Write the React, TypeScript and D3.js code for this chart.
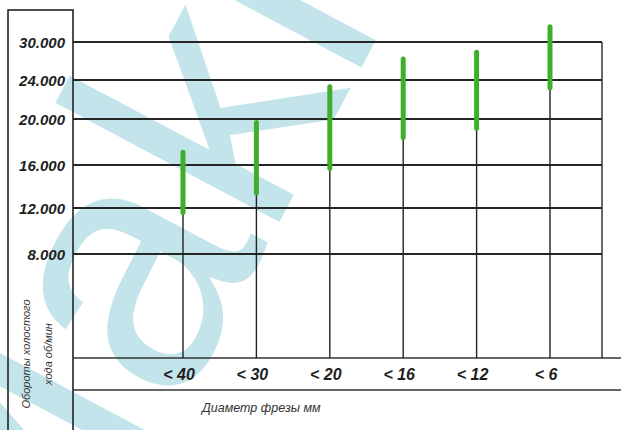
import * as d3 from "d3";
import { useEffect, useRef } from "react";

// tick values on the rpm axis (the axis is not linear, ticks are evenly drawn)
const rpmTicks = [8000, 12000, 16000, 20000, 24000, 30000];
const rpmTickLabels = ["8.000", "12.000", "16.000", "20.000", "24.000", "30.000"];

// cutter diameter categories
const diameters = ["< 40", "< 30", "< 20", "< 16", "< 12", "< 6"];
// idle speed range for each diameter, rpm
const rpmMin = [11600, 13400, 15700, 18400, 19200, 23200];
const rpmMax = [17100, 19700, 23300, 27300, 28400, 32400];

export default function App() {
  const svgRef = useRef<SVGSVGElement>(null);
  const width = 621;
  const height = 430;

  useEffect(() => {
    const svg = d3.select(svgRef.current).attr("width", width).attr("height", height);
    svg.selectAll("*").remove();

    const left = 73;
    const right = 602;
    const axisY = 358;
    const bandBottom = 390;
    const font = "'Liberation Sans', Arial, sans-serif";

    // piecewise scale: the printed grid spacing is roughly even
    const y = d3.scaleLinear().domain(rpmTicks).range([254, 208, 165, 119, 80, 42]);
    const x = d3.scalePoint<string>().domain(diameters).range([183, 550]);

    // watermark (clipped to the picture, like the scanned original)
    svg.append("clipPath").attr("id", "wm-clip")
      .append("rect").attr("width", width).attr("height", height);
    svg.append("g").attr("clip-path", "url(#wm-clip)")
      .append("text")
      .attr("transform", "translate(40,672) rotate(-62)")
      .attr("font-family", font)
      .attr("font-size", 350)
      .attr("fill", "#c2e4ea")
      .text("Makita");

    // left box for the y labels
    svg.append("rect")
      .attr("x", 8).attr("y", 10).attr("width", left - 8).attr("height", 440)
      .attr("fill", "none").attr("stroke", "#222").attr("stroke-width", 1.6);

    // horizontal grid
    svg.append("g").selectAll("line")
      .data(rpmTicks)
      .enter()
      .append("line")
      .attr("x1", left).attr("x2", right)
      .attr("y1", d => y(d)).attr("y2", d => y(d))
      .attr("stroke", "#262626").attr("stroke-width", 1.9);

    // right border
    svg.append("line")
      .attr("x1", right).attr("x2", right)
      .attr("y1", y(30000)).attr("y2", axisY)
      .attr("stroke", "#2a2a2a").attr("stroke-width", 1.4);

    // band for the category labels
    [axisY, bandBottom].forEach(v => {
      svg.append("line")
        .attr("x1", left).attr("x2", width)
        .attr("y1", v).attr("y2", v)
        .attr("stroke", "#333").attr("stroke-width", 1.6);
    });

    // y labels
    svg.append("g").selectAll("text")
      .data(rpmTicks)
      .enter()
      .append("text")
      .attr("x", 65)
      .attr("y", d => y(d) + 5.5)
      .attr("text-anchor", "end")
      .attr("font-family", font)
      .attr("font-weight", "bold")
      .attr("font-style", "italic")
      .attr("font-size", 15)
      .attr("fill", "#1e1e1e")
      .text((d, i) => rpmTickLabels[i]);

    const ranges = diameters.map((d, i) => ({ d, lo: rpmMin[i], hi: rpmMax[i] }));

    // vertical stems
    svg.append("g").selectAll("line")
      .data(ranges)
      .enter()
      .append("line")
      .attr("x1", d => x(d.d)!).attr("x2", d => x(d.d)!)
      .attr("y1", axisY).attr("y2", d => y(d.lo))
      .attr("stroke", "#222").attr("stroke-width", 1.4);

    // green speed ranges
    svg.append("g").selectAll("line")
      .data(ranges)
      .enter()
      .append("line")
      .attr("x1", d => x(d.d)!).attr("x2", d => x(d.d)!)
      .attr("y1", d => y(d.lo)).attr("y2", d => y(d.hi))
      .attr("stroke", "#40ad2b").attr("stroke-width", 5)
      .attr("stroke-linecap", "round");

    // category labels
    svg.append("g").selectAll("text")
      .data(diameters)
      .enter()
      .append("text")
      .attr("x", d => x(d)! - 4)
      .attr("y", 380)
      .attr("text-anchor", "middle")
      .attr("font-family", font)
      .attr("font-weight", "bold")
      .attr("font-style", "italic")
      .attr("font-size", 16)
      .attr("fill", "#1e1e1e")
      .text(d => d);

    // axis titles
    svg.append("text")
      .attr("x", 202).attr("y", 412)
      .attr("font-family", font)
      .attr("font-style", "italic")
      .attr("font-size", 12.5)
      .attr("fill", "#333")
      .text("Диаметр фрезы мм");

    const yt = svg.append("text")
      .attr("transform", "translate(0,354) rotate(-90)")
      .attr("text-anchor", "middle")
      .attr("font-family", font)
      .attr("font-style", "italic")
      .attr("font-size", 11)
      .attr("fill", "#333");
    yt.append("tspan").attr("x", 0).attr("y", 30).text("Обороты холостого");
    yt.append("tspan").attr("x", 0).attr("y", 52).text("хода об/мин");

    return () => {};
  }, []);

  return (
    <div style={{ position: "absolute", left: 0, top: 0, width, height, background: "#fff" }}>
      <svg ref={svgRef}></svg>
    </div>
  );
}
